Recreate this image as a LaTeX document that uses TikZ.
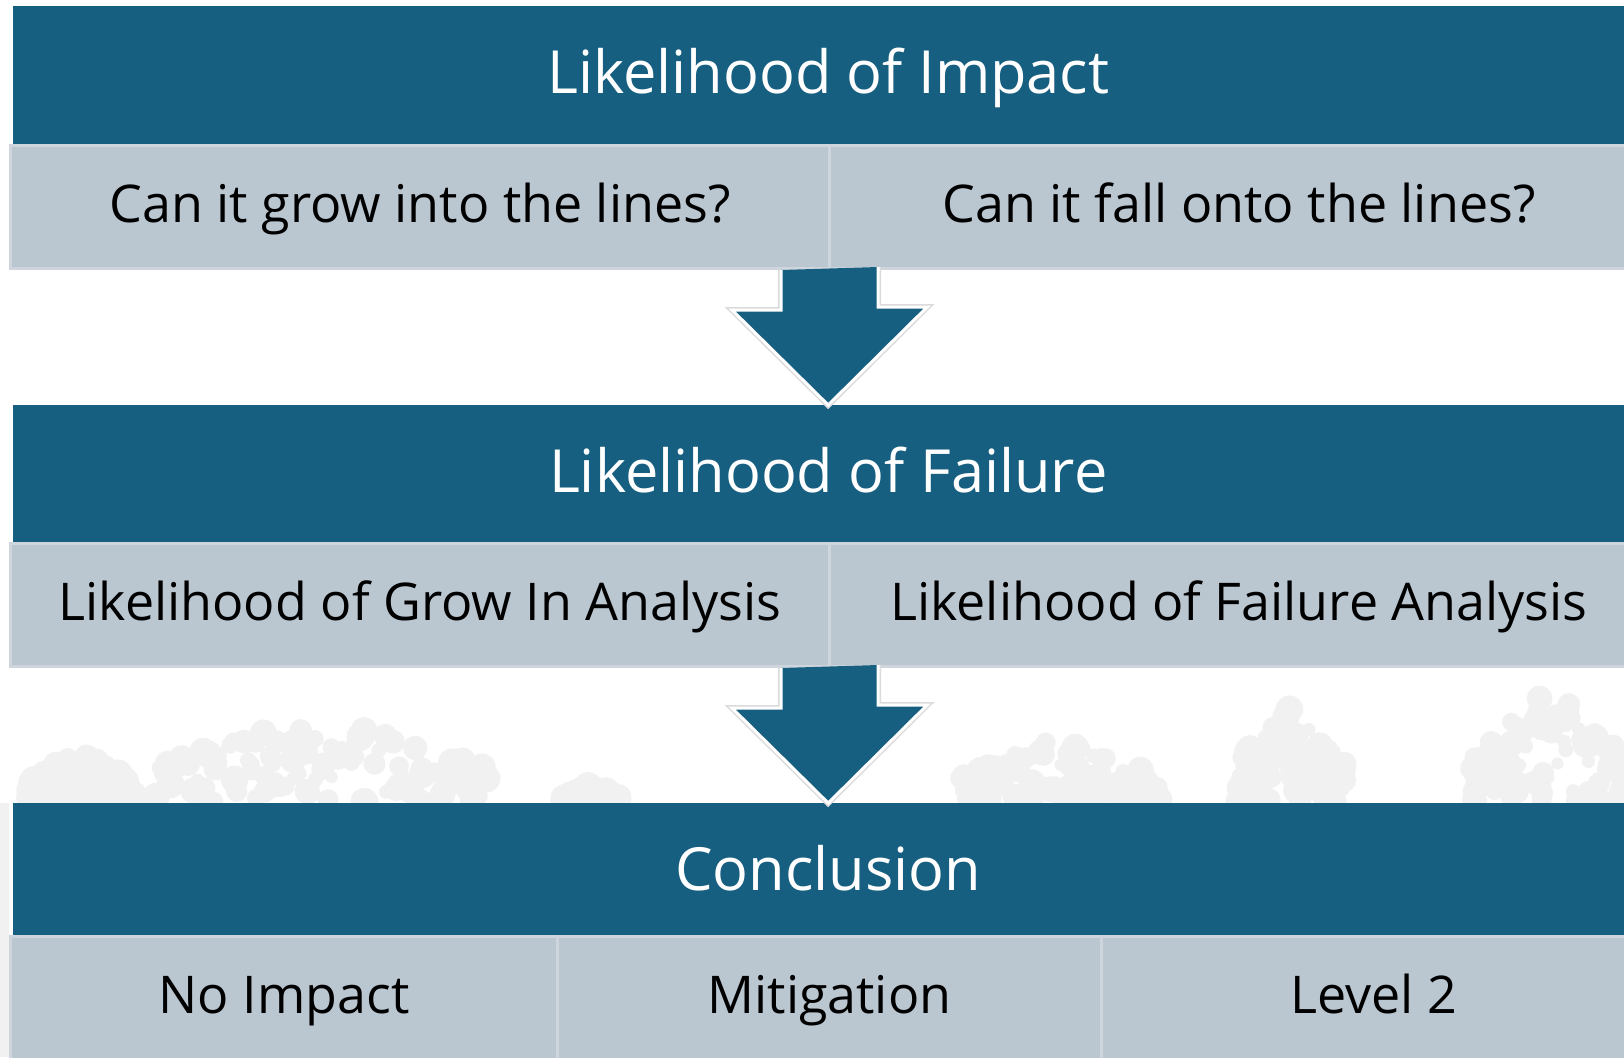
\documentclass[tikz,border=0pt]{standalone}
\usepackage{fontspec}
\setmainfont{Open Sans}
\usetikzlibrary{calc}

\definecolor{ribbon}{RGB}{23,95,128}
\definecolor{cellfill}{RGB}{186,198,208}
\definecolor{celledge}{RGB}{206,213,220}
\definecolor{treegray}{RGB}{241,241,241}

\tikzset{
  band/.style={fill=ribbon,text=white,anchor=north west,inner sep=0pt,
    minimum width=1630,minimum height=138,text height=42.5pt,text depth=6pt,
    font=\fontsize{59.5}{64}\selectfont},
  cell/.style={fill=cellfill,draw=celledge,line width=3,anchor=north west,inner sep=0pt,
    minimum height=123,text height=37pt,text depth=6pt,
    font=\fontsize{52}{56}\selectfont},
  blockarrow/.style={preaction={draw=black!14,line width=6},fill=ribbon,draw=white,line width=3},
}

\begin{document}
\begin{tikzpicture}[x=1pt,y=-1pt]
    \clip (0,0) rectangle (1624,1057);
    \fill[white] (0,0) rectangle (1624,1057);
    % faint tree line behind the last band
    \pgfmathsetseed{12}
    \foreach \cx/\w/\ty in {80/55/750,320/170/712,590/30/782,1060/100/735,1290/55/705,1550/80/688}
        \foreach \k in {1,...,110}{
            \pgfmathsetmacro\u{rand}
            \pgfmathsetmacro\tx{\cx+\w*\u}
            \pgfmathsetmacro\ty{803-(803-\ty)*rnd*(1-0.6*abs(\u))}
            \pgfmathsetmacro\tr{6+8*rnd}
            \fill[treegray] (\tx,\ty) circle (\tr);
        }
    \fill[treegray] (0,803) rectangle (9,1057);

    % likelihood of impact
    \node[band] (li) at (13,6) {Likelihood of Impact};
    \node[cell,minimum width=819] (gi) at (9,144) {Can it grow into the lines?};
    \node[cell,minimum width=819] (fo) at (828,144) {Can it fall onto the lines?};

    % likelihood of failure
    \node[band] (lf) at (13,405) {Likelihood of Failure};
    \node[cell,minimum width=819] (ga) at (9,542) {Likelihood of Grow In Analysis};
    \node[cell,minimum width=819] (fa) at (828,542) {Likelihood of Failure Analysis};

    % conclusion
    \node[band] (cn) at (13,803) {Conclusion};
    \node[cell,minimum width=547] (ni) at (9,935) {No Impact};
    \node[cell,minimum width=544] (mi) at (556,935) {Mitigation};
    \node[cell,minimum width=545] (l2) at (1100,935) {Level 2};

    \foreach \src/\dst in {gi/lf,ga/cn}
        \filldraw[blockarrow] ($(\src.south east)+(-50,0)$) -- ++(0,40) -- ++(-49,0) -- (\dst.north)
            -- ++(99,-98) -- ++(-49,0) -- ++(0,-40);
\end{tikzpicture}
\end{document}
